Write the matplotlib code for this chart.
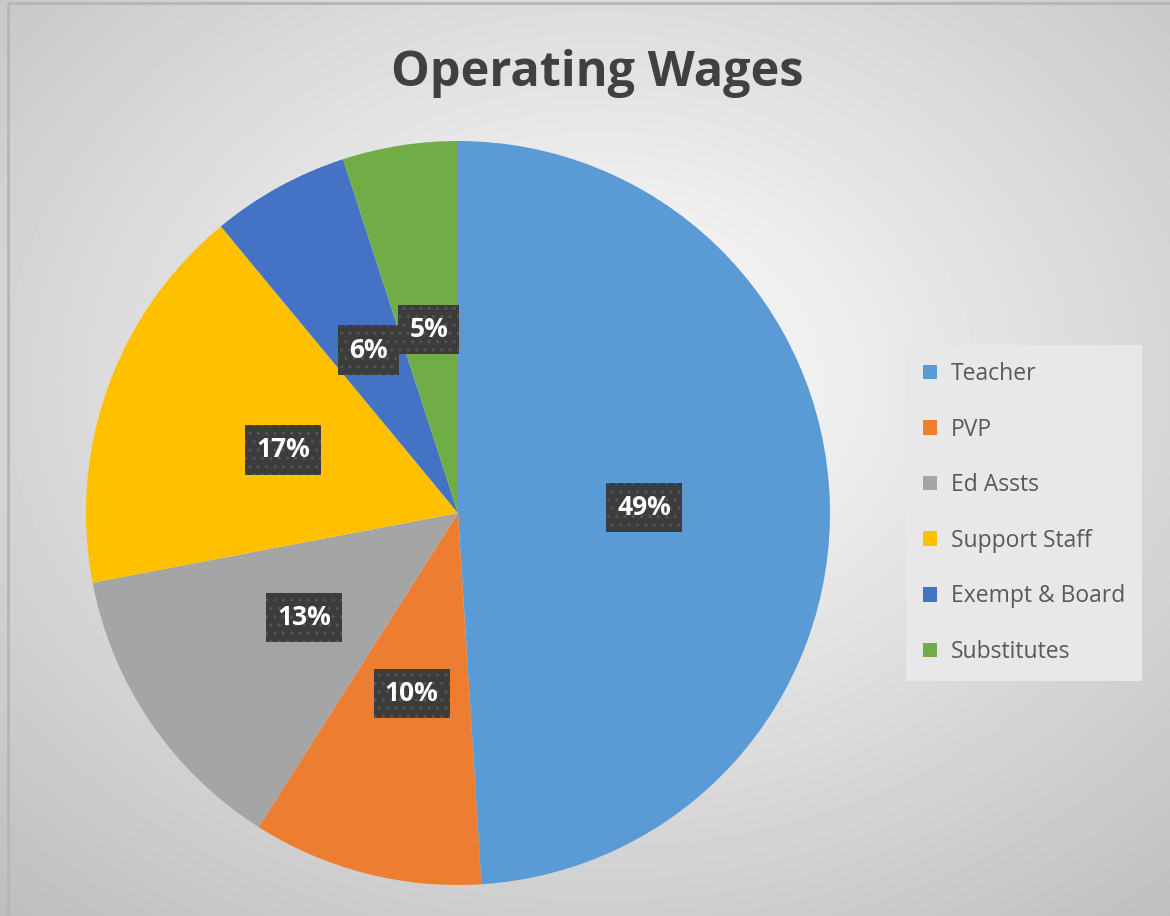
"""Operating wages pie chart, Excel-style look."""

import matplotlib

matplotlib.use("Agg")
import matplotlib.pyplot as plt  # noqa: E402
import numpy as np  # noqa: E402
from matplotlib.patches import Rectangle  # noqa: E402

plt.rcParams["font.family"] = ["Open Sans", "DejaVu Sans"]

categories = ["Teacher", "PVP", "Ed Assts", "Support Staff", "Exempt & Board", "Substitutes"]
shares = [49, 10, 13, 17, 6, 5]
colors = ["#5B9BD5", "#ED7D31", "#A5A5A5", "#FFC000", "#4472C4", "#70AD47"]

W, H = 1170, 916
fig = plt.figure(figsize=(W / 100, H / 100), dpi=100)

# radial grey background
bg = fig.add_axes([0, 0, 1, 1])
yy, xx = np.mgrid[0:H, 0:W]
d = np.hypot((xx - 600) / W, (yy - 380) / H)
shade = np.clip(1.0 - 0.33 * d, 0, 1)
bg.imshow(shade, cmap="gray", vmin=0, vmax=1, extent=[0, W, H, 0], aspect="auto")
bg.add_patch(Rectangle((8, 3), W, H, fill=False, ec="#b5b5b5", lw=2))
bg.set_xlim(0, W)
bg.set_ylim(H, 0)
bg.axis("off")

fig.text(597 / W, 1 - 74 / H, "Operating Wages", ha="center", va="center",
         fontsize=35, fontweight="bold", color="#404040")

cx, cy, r = 458, 513, 372
ax = fig.add_axes([(cx - r) / W, (H - cy - r) / H, 2 * r / W, 2 * r / H])
wedges, texts = ax.pie(shares, colors=colors, startangle=90, counterclock=False,
                       radius=1, wedgeprops={"linewidth": 0})
ax.set_xlim(-1, 1)
ax.set_ylim(-1, 1)
ax.set_aspect("equal")
ax.axis("off")

theta = 90.0
total = float(sum(shares))
for v in shares:
    mid = np.deg2rad(theta - 180.0 * v / total)
    theta -= 360.0 * v / total
    ax.text(0.5 * np.cos(mid), 0.5 * np.sin(mid), f"{v}%", ha="center", va="center",
            fontsize=19, fontweight="bold", color="white",
            bbox={"boxstyle": "square,pad=0.42", "facecolor": "#3c3c3c",
                  "edgecolor": "#555555", "hatch": "..", "linewidth": 0})

leg = fig.legend(wedges, categories, loc="center left",
                 bbox_to_anchor=(906 / W, (H - 513) / H), frameon=True,
                 fontsize=16.5, handlelength=0.6, handleheight=0.6,
                 handletextpad=0.6, labelspacing=1.38, borderpad=0.75,
                 borderaxespad=0, fancybox=False, labelcolor="#595959")
leg.get_frame().set_facecolor("#e8e8e8")
leg.get_frame().set_edgecolor("none")
leg.get_frame().set_alpha(1)

fig.savefig("out.png", dpi=100)
plt.close(fig)
